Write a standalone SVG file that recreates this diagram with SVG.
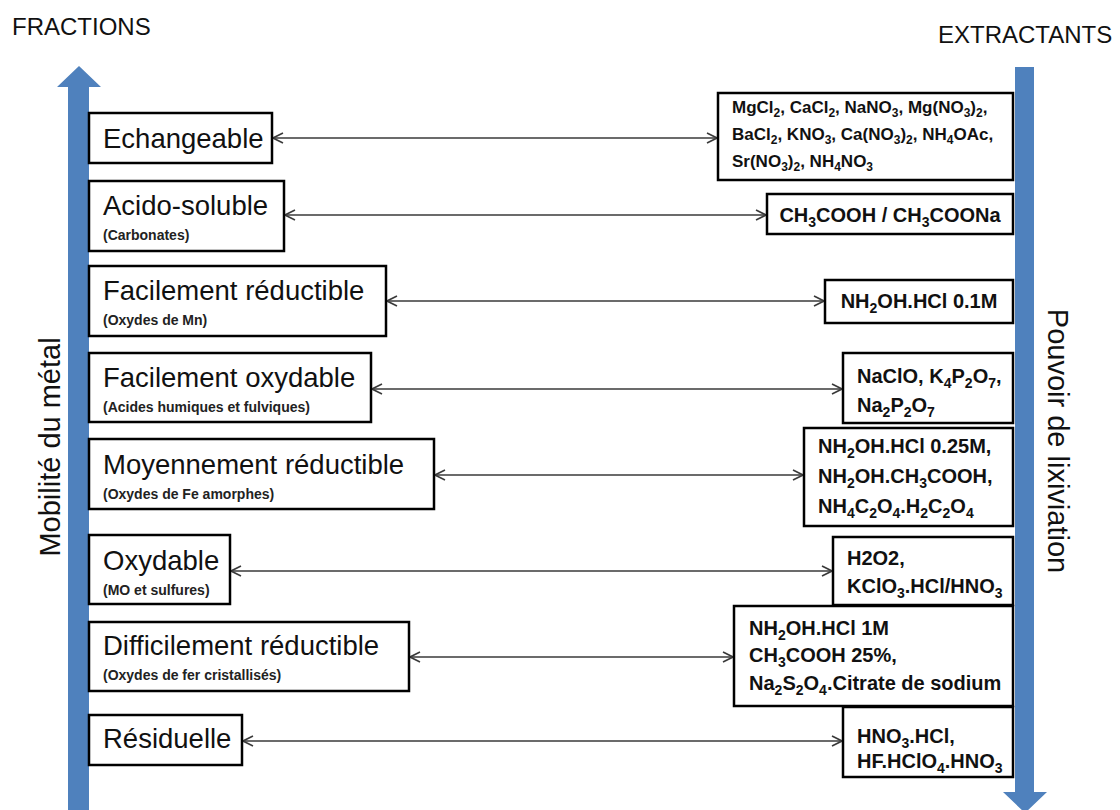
<svg xmlns="http://www.w3.org/2000/svg" width="1120" height="810" viewBox="0 0 1120 810">
<style>
text{font-family:"Liberation Sans",Arial,sans-serif;fill:#111}
.hd{font-size:24px}
.ax{font-size:29px}
.t{font-size:27.5px}
.st{font-size:14px;font-weight:bold;fill:#222}
.x{font-size:20px;font-weight:bold}
.xs{font-size:17px;font-weight:bold}
.s{font-size:14px}
.ss{font-size:12px}
.box{fill:#fff;stroke:#000;stroke-width:2.5}
.con{stroke:#3a3a3a;stroke-width:1.6;fill:none;marker-start:url(#ah);marker-end:url(#ah)}
.blue{fill:#4F81BD}
</style>
<defs>
<marker id="ah" viewBox="0 0 12 12" refX="11" refY="6" markerWidth="12" markerHeight="12" markerUnits="userSpaceOnUse" orient="auto-start-reverse">
<path d="M1,1 L11,6 L1,11" fill="none" stroke="#3a3a3a" stroke-width="1.6"/>
</marker>
</defs>
<rect width="1120" height="810" fill="#fff"/>

<g id="axis-left">
<path class="blue" d="M68,810 L68,87 L57,87 L79,66 L101,87 L89,87 L89,810 Z"/>
<text class="ax" transform="translate(60,447) rotate(-90)" text-anchor="middle">Mobilité du métal</text>
</g>
<g id="axis-right">
<path class="blue" d="M1015,67 L1034,67 L1034,792 L1047,792 L1025,813 L1003,792 L1015,792 Z"/>
<text class="ax" transform="translate(1048,441) rotate(90)" text-anchor="middle">Pouvoir de lixiviation</text>
</g>
<text class="hd" x="12" y="35">FRACTIONS</text>
<text class="hd" x="938" y="43">EXTRACTANTS</text>

<g id="connectors">
<line class="con" x1="273" y1="138" x2="717" y2="138"/>
<line class="con" x1="285" y1="215" x2="766" y2="215"/>
<line class="con" x1="387" y1="301" x2="824" y2="301"/>
<line class="con" x1="372" y1="389" x2="842" y2="389"/>
<line class="con" x1="435" y1="475" x2="803" y2="475"/>
<line class="con" x1="231" y1="571" x2="832" y2="571"/>
<line class="con" x1="410" y1="657" x2="733" y2="657"/>
<line class="con" x1="243" y1="741" x2="842" y2="741"/>
</g>

<g id="f-echangeable">
<rect class="box" x="89" y="113" width="183" height="50"/>
<text class="t" x="103" y="148">Echangeable</text>
</g>
<g id="f-acido-soluble">
<rect class="box" x="89" y="181" width="195" height="70"/>
<text class="t" x="103" y="215">Acido-soluble</text>
<text class="st" x="103" y="240">(Carbonates)</text>
</g>
<g id="f-facilement-reductible">
<rect class="box" x="89" y="266" width="297" height="70"/>
<text class="t" x="103" y="300">Facilement réductible</text>
<text class="st" x="103" y="325">(Oxydes de Mn)</text>
</g>
<g id="f-facilement-oxydable">
<rect class="box" x="89" y="353" width="282" height="69"/>
<text class="t" x="103" y="387">Facilement oxydable</text>
<text class="st" x="103" y="412">(Acides humiques et fulviques)</text>
</g>
<g id="f-moyennement-reductible">
<rect class="box" x="89" y="439" width="345" height="70"/>
<text class="t" x="103" y="474">Moyennement réductible</text>
<text class="st" x="103" y="499">(Oxydes de Fe amorphes)</text>
</g>
<g id="f-oxydable">
<rect class="box" x="89" y="535" width="141" height="69"/>
<text class="t" x="103" y="570">Oxydable</text>
<text class="st" x="103" y="595">(MO et sulfures)</text>
</g>
<g id="f-difficilement-reductible">
<rect class="box" x="89" y="622" width="320" height="69"/>
<text class="t" x="103" y="655">Difficilement réductible</text>
<text class="st" x="103" y="680">(Oxydes de fer cristallisés)</text>
</g>
<g id="f-residuelle">
<rect class="box" x="89" y="715" width="153" height="50"/>
<text class="t" x="103" y="748">Résiduelle</text>
</g>

<g id="e-echangeable">
<rect class="box" x="718" y="93" width="295" height="87"/>
<text class="xs" x="732" y="113">MgCl<tspan class="ss" dy="4">2</tspan><tspan dy="-4">, CaCl</tspan><tspan class="ss" dy="4">2</tspan><tspan dy="-4">, NaNO</tspan><tspan class="ss" dy="4">3</tspan><tspan dy="-4">, Mg(NO</tspan><tspan class="ss" dy="4">3</tspan><tspan dy="-4">)</tspan><tspan class="ss" dy="4">2</tspan><tspan dy="-4">,</tspan></text>
<text class="xs" x="732" y="140">BaCl<tspan class="ss" dy="4">2</tspan><tspan dy="-4">, KNO</tspan><tspan class="ss" dy="4">3</tspan><tspan dy="-4">, Ca(NO</tspan><tspan class="ss" dy="4">3</tspan><tspan dy="-4">)</tspan><tspan class="ss" dy="4">2</tspan><tspan dy="-4">, NH</tspan><tspan class="ss" dy="4">4</tspan><tspan dy="-4">OAc,</tspan></text>
<text class="xs" x="732" y="167">Sr(NO<tspan class="ss" dy="4">3</tspan><tspan dy="-4">)</tspan><tspan class="ss" dy="4">2</tspan><tspan dy="-4">, NH</tspan><tspan class="ss" dy="4">4</tspan><tspan dy="-4">NO</tspan><tspan class="ss" dy="4">3</tspan></text>
</g>
<g id="e-acido-soluble">
<rect class="box" x="767" y="194" width="246" height="40"/>
<text class="x" x="890" y="222" text-anchor="middle">CH<tspan class="s" dy="5">3</tspan><tspan dy="-5">COOH / CH</tspan><tspan class="s" dy="5">3</tspan><tspan dy="-5">COONa</tspan></text>
</g>
<g id="e-facilement-reductible">
<rect class="box" x="825" y="280" width="188" height="43"/>
<text class="x" x="919" y="308" text-anchor="middle">NH<tspan class="s" dy="5">2</tspan><tspan dy="-5">OH.HCl 0.1M</tspan></text>
</g>
<g id="e-facilement-oxydable">
<rect class="box" x="843" y="353" width="170" height="70"/>
<text class="x" x="857" y="383">NaClO, K<tspan class="s" dy="5">4</tspan><tspan dy="-5">P</tspan><tspan class="s" dy="5">2</tspan><tspan dy="-5">O</tspan><tspan class="s" dy="5">7</tspan><tspan dy="-5">,</tspan></text>
<text class="x" x="857" y="412">Na<tspan class="s" dy="5">2</tspan><tspan dy="-5">P</tspan><tspan class="s" dy="5">2</tspan><tspan dy="-5">O</tspan><tspan class="s" dy="5">7</tspan></text>
</g>
<g id="e-moyennement-reductible">
<rect class="box" x="804" y="428" width="209" height="98"/>
<text class="x" x="818" y="453">NH<tspan class="s" dy="5">2</tspan><tspan dy="-5">OH.HCl 0.25M,</tspan></text>
<text class="x" x="818" y="483">NH<tspan class="s" dy="5">2</tspan><tspan dy="-5">OH.CH</tspan><tspan class="s" dy="5">3</tspan><tspan dy="-5">COOH,</tspan></text>
<text class="x" x="818" y="513">NH<tspan class="s" dy="5">4</tspan><tspan dy="-5">C</tspan><tspan class="s" dy="5">2</tspan><tspan dy="-5">O</tspan><tspan class="s" dy="5">4</tspan><tspan dy="-5">.H</tspan><tspan class="s" dy="5">2</tspan><tspan dy="-5">C</tspan><tspan class="s" dy="5">2</tspan><tspan dy="-5">O</tspan><tspan class="s" dy="5">4</tspan></text>
</g>
<g id="e-oxydable">
<rect class="box" x="833" y="537" width="180" height="68"/>
<text class="x" x="847" y="565">H2O2,</text>
<text class="x" x="847" y="593">KClO<tspan class="s" dy="5">3</tspan><tspan dy="-5">.HCl/HNO</tspan><tspan class="s" dy="5">3</tspan></text>
</g>
<g id="e-difficilement-reductible">
<rect class="box" x="734" y="606" width="279" height="100"/>
<text class="x" x="749" y="635">NH<tspan class="s" dy="5">2</tspan><tspan dy="-5">OH.HCl 1M</tspan></text>
<text class="x" x="749" y="662">CH<tspan class="s" dy="5">3</tspan><tspan dy="-5">COOH 25%,</tspan></text>
<text class="x" x="749" y="690">Na<tspan class="s" dy="5">2</tspan><tspan dy="-5">S</tspan><tspan class="s" dy="5">2</tspan><tspan dy="-5">O</tspan><tspan class="s" dy="5">4</tspan><tspan dy="-5">.Citrate de sodium</tspan></text>
</g>
<g id="e-residuelle">
<rect class="box" x="843" y="707" width="170" height="70"/>
<text class="x" x="857" y="743">HNO<tspan class="s" dy="5">3</tspan><tspan dy="-5">.HCl,</tspan></text>
<text class="x" x="857" y="768">HF.HClO<tspan class="s" dy="5">4</tspan><tspan dy="-5">.HNO</tspan><tspan class="s" dy="5">3</tspan></text>
</g>
</svg>
